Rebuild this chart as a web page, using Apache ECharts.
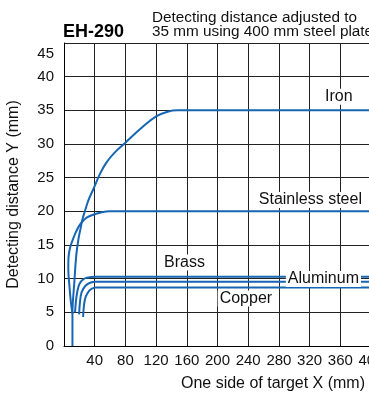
<!DOCTYPE html>
<html>
<head>
<meta charset="utf-8">
<script src="https://cdn.jsdelivr.net/npm/echarts@6/dist/echarts.min.js"></script>
<style>
  html, body { margin: 0; padding: 0; background: #fff; }
  #main { width: 369px; height: 394px; }
</style>
</head>
<body>
<div id="main"></div>
<script>
// curves, [x mm, y mm]
var iron = [[11, 0], [11, 4.8], [13.5, 9.5], [16, 13.5], [19, 16], [21.5, 17.4], [24, 18.8], [28, 20.3], [32, 21.7],
  [39, 23.5], [47, 25.6], [55, 27.2], [65, 28.6], [80, 30.2], [100, 32.3], [120, 34.1], [135, 34.8], [148, 35], [400, 35]];
var stainless = [[11, 4.8], [9, 6.5], [7, 9], [5.6, 11.5], [5.8, 13], [7.5, 14.4], [10.5, 15.5], [15, 16.8],
  [19.5, 17.8], [25, 18.6], [30, 19.1], [38, 19.5], [47, 19.8], [60, 20], [400, 20]];
var brass = [[14.4, 5], [15.6, 6.7], [17.4, 8.1], [20, 9.2], [24, 9.8], [30, 10.15], [41, 10.3], [400, 10.3]];
var aluminum = [[19.7, 4.7], [20.8, 6.5], [23, 8], [28, 8.95], [34, 9.4], [41, 9.55], [400, 9.55]];
var copper = [[24.9, 4.3], [26, 6], [28.2, 7.3], [32.7, 8.2], [37, 8.55], [41, 8.7], [400, 8.7]];

var seriesNames = ['Iron', 'Stainless steel', 'Brass', 'Aluminum', 'Copper'];
var seriesData = [iron, stainless, brass, aluminum, copper];
// where each curve name sits, in data units
var labelAt = [[358, 37], [321, 21.7], [157, 12.4], [338, 9.95], [237, 7.05]];

var xTicks = [0, 40, 80, 120, 160, 200, 240, 280, 320, 360, 400];
var yTicks = [0, 5, 10, 15, 20, 25, 30, 35, 40, 45];

var font = 'Liberation Sans, Arial, Helvetica, sans-serif';
var blue = '#1766b4';

var chart = echarts.init(document.getElementById('main'));

var series = seriesNames.map(function (name, i) {
  return {
    name: name,
    type: 'line',
    data: seriesData[i],
    smooth: 0.4,
    showSymbol: false,
    lineStyle: { color: blue, width: 2 },
    z: 3,
    markPoint: {
      symbol: 'circle',
      symbolSize: 1,
      itemStyle: { color: 'rgba(0,0,0,0)' },
      z: 5,
      label: {
        show: true,
        position: 'inside',
        formatter: name,
        color: '#111',
        fontFamily: font,
        fontSize: 16,
        lineHeight: 14,
        backgroundColor: '#fff',
        padding: [1, 2]
      },
      data: [{ coord: labelAt[i] }]
    }
  };
});

var option = {
  animation: false,
  backgroundColor: '#fff',
  title: [
    {
      text: 'EH-290',
      left: 63,
      top: 23,
      padding: 0,
      textStyle: { fontFamily: font, fontSize: 18, fontWeight: 'bold', color: '#000' }
    },
    {
      text: 'Detecting distance adjusted to\n35 mm using 400 mm steel plate',
      left: 152,
      top: 11,
      padding: 0,
      textStyle: { fontFamily: font, fontSize: 15.3, lineHeight: 14, fontWeight: 'normal', color: '#111' }
    }
  ],
  grid: { left: 64, top: 43, width: 307, height: 303, outerBoundsMode: 'none' },
  xAxis: {
    type: 'value',
    min: xTicks[0],
    max: xTicks[xTicks.length - 1],
    interval: 40,
    name: 'One side of target X (mm)',
    nameLocation: 'end',
    nameGap: 0,
    nameTextStyle: {
      fontFamily: font, fontSize: 16, color: '#111',
      align: 'right', verticalAlign: 'top', padding: [30, 6, 0, 0]
    },
    axisLine: { lineStyle: { color: '#000', width: 1 } },
    axisTick: { show: false },
    axisLabel: {
      fontFamily: font, fontSize: 15, color: '#111', margin: 7,
      showMaxLabel: true,
      formatter: function (v) { return v === 0 ? '' : v; }
    },
    splitLine: { show: true, lineStyle: { color: '#222', width: 1 } }
  },
  yAxis: {
    type: 'value',
    min: yTicks[0],
    max: yTicks[yTicks.length - 1],
    interval: 5,
    name: 'Detecting distance Y (mm)',
    nameLocation: 'middle',
    nameGap: 42,
    nameTextStyle: { fontFamily: font, fontSize: 16, color: '#111' },
    axisLine: { show: true, lineStyle: { color: '#000', width: 1 } },
    axisTick: { show: false },
    axisLabel: {
      fontFamily: font, fontSize: 15, color: '#111', margin: 10,
      padding: [3, 0, 0, 0],
      verticalAlignMaxLabel: 'top'
    },
    splitLine: { show: true, lineStyle: { color: '#222', width: 1 } }
  },
  series: series
};

chart.setOption(option);
</script>
</body>
</html>
